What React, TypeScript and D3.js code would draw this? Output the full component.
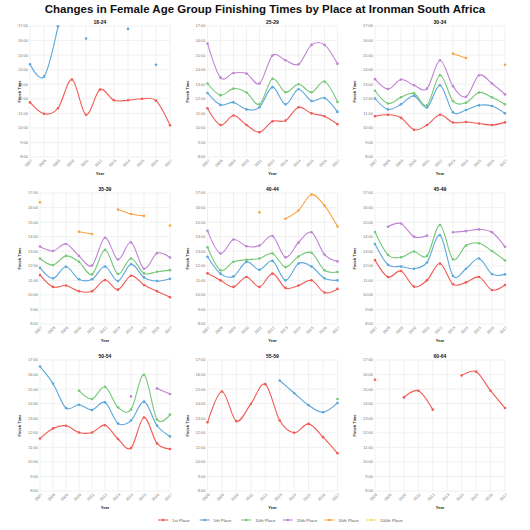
import * as d3 from 'd3'

const TITLE = 'Changes in Female Age Group Finishing Times by Place at Ironman South Africa'
const PLACES = ['1st Place', '5th Place', '10th Place', '20th Place', '50th Place', '100th Place']
const COLORS = ['#f15b55', '#5ba7dc', '#74c876', '#c084d4', '#f7a541', '#f2e35c']
const HOURS = [8, 9, 10, 11, 12, 13, 14, 15, 16, 17]
const YEARS_A = [2007, 2008, 2009, 2010, 2011, 2012, 2013, 2014, 2015, 2016, 2017]
const YEARS_B = [2008, 2009, 2010, 2011, 2012, 2013, 2014, 2015, 2016, 2017]

const _ = null

// finish times in hours, one row per place (1st, 5th, 10th, 20th, 50th, 100th)
const F18_24 = [
  [11.75, 10.97, 11.35, 13.32, 10.9, 12.63, 11.9, 11.9, 12.0, 11.87, 10.18],
  [14.37, 13.52, 16.98, _, 16.14, _, _, 16.8, _, 14.34, _],
]
const F25_29 = [
  [11.35, 10.2, 10.85, 10.2, 9.7, 10.45, 10.5, 11.42, 11.0, 10.8, 10.25],
  [12.4, 11.58, 11.75, 11.27, 11.42, 12.8, 11.62, 12.65, 11.85, 12.05, 11.1],
  [13.05, 12.25, 12.7, 12.43, 11.62, 13.37, 12.45, 13.0, 12.45, 13.18, 11.78],
  [15.8, 13.45, 13.77, 13.73, 13.05, 14.97, 14.65, 14.37, 15.7, 15.7, 14.4],
]
const F30_34 = [
  [10.8, 10.9, 10.7, 9.87, 10.2, 10.9, 10.37, 10.4, 10.3, 10.2, 10.38],
  [12.02, 11.27, 11.62, 12.2, 11.4, 12.93, 11.07, 11.23, 11.55, 11.5, 11.0],
  [12.55, 11.68, 12.1, 12.37, 11.55, 13.62, 11.84, 11.73, 12.43, 12.1, 11.62],
  [13.35, 12.67, 13.32, 12.93, 12.7, 14.65, 12.86, 12.14, 13.62, 13.05, 12.3],
  [_, _, _, _, _, _, 15.1, 14.8, _, _, 14.33],
]
const F35_39 = [
  [11.36, 10.55, 10.64, 10.25, 10.25, 11.02, 10.36, 11.32, 10.68, 10.25, 9.84],
  [11.86, 11.14, 11.93, 11.07, 11.07, 11.95, 10.95, 12.11, 11.2, 10.95, 11.11],
  [12.5, 12.05, 12.68, 12.27, 11.41, 13.09, 11.43, 12.5, 11.48, 11.59, 11.7],
  [13.32, 13.02, 13.5, 12.68, 12.02, 13.93, 12.43, 13.61, 11.8, 12.86, 12.57],
  [16.36, _, _, 14.34, 14.18, _, 15.86, 15.56, 15.43, _, 14.77],
]
const F40_44 = [
  [11.48, 11.0, 10.55, 11.23, 10.55, 11.46, 10.48, 10.64, 11.0, 10.16, 10.41],
  [12.62, 11.46, 11.27, 12.27, 11.73, 12.34, 11.0, 12.16, 11.95, 11.14, 11.0],
  [13.27, 11.69, 12.27, 12.41, 12.5, 12.84, 11.91, 12.64, 12.9, 11.69, 11.57],
  [14.4, 12.84, 13.8, 13.34, 13.39, 14.05, 12.58, 13.6, 14.3, 12.77, 12.3],
  [_, _, _, _, 15.67, _, 15.23, 15.8, 16.9, 16.13, 14.7],
]
const F45_49 = [
  [12.39, 11.23, 11.64, 10.57, 11.0, 12.16, 10.73, 10.86, 11.23, 10.34, 10.68],
  [13.5, 12.07, 11.95, 11.8, 12.23, 14.1, 11.3, 11.8, 12.5, 11.43, 11.41],
  [14.32, 12.75, 12.58, 12.98, 12.68, 14.8, 12.45, 13.39, 13.55, 13.02, 12.36],
  [_, 14.68, 14.9, 14.0, 14.07, _, 14.3, 14.38, 14.5, 14.3, 13.3],
]
const F50_54 = [
  [11.61, 12.3, 12.48, 12.02, 12.02, 12.52, 11.57, 10.95, 13.05, 11.27, 10.89],
  [16.55, 15.39, 13.7, 13.93, 13.57, 14.09, 12.64, 12.84, 14.14, 12.5, 11.75],
  [_, _, _, 14.89, 14.32, 15.16, 13.75, 13.59, 15.98, 12.91, 13.25],
  [_, _, _, _, _, _, _, 14.5, _, 15.05, 14.66],
]
const F55_59 = [
  [12.72, 14.84, 12.8, 13.98, 15.34, 12.84, 12.0, 12.61, 11.7, 10.59],
  [_, _, _, _, _, 15.59, 14.73, 13.89, 13.41, 14.05],
  [_, _, _, _, _, _, _, _, _, 14.32],
]
const F60_64 = [
  [15.64, _, 14.43, 14.89, 13.59, _, 15.93, 16.2, 14.89, 13.7],
]

const GROUPS = ['18-24', '25-29', '30-34', '35-39', '40-44', '45-49', '50-54', '55-59', '60-64']
const GROUP_DATA = [F18_24, F25_29, F30_34, F35_39, F40_44, F45_49, F50_54, F55_59, F60_64]
const GROUP_YEARS = [YEARS_A, YEARS_A, YEARS_A, YEARS_A, YEARS_A, YEARS_A, YEARS_A, YEARS_B, YEARS_B]

const FONT = '"Liberation Sans", Arial, Helvetica, sans-serif'
const COL_STEP = 167.5
const ROW_STEP = 167

function Panel({ idx }: { idx: number }) {
  const ox = (idx % 3) * COL_STEP
  const oy = Math.floor(idx / 3) * ROW_STEP
  const years = GROUP_YEARS[idx]
  const left = ox + (idx === 0 ? 30 : 40)
  const right = ox + 170
  const top = oy + 26
  const bottom = oy + 157

  const x = d3.scaleLinear().domain([years[0], years[years.length - 1]]).range([left, right])
  const y = d3.scaleLinear().domain([8, 17]).range([bottom, top])

  const line = d3
    .line<number | null>()
    .defined((v) => v != null)
    .x((_v, i) => x(years[i]))
    .y((v) => y(v as number))
    .curve(d3.curveCardinal)

  return (
    <g>
      {HOURS.map((h) => (
        <line key={'h' + h} x1={left} x2={right} y1={y(h)} y2={y(h)} stroke="#e8e8e8" strokeWidth={0.6} />
      ))}
      {years.map((yr) => (
        <line key={'v' + yr} x1={x(yr)} x2={x(yr)} y1={top} y2={bottom} stroke="#e8e8e8" strokeWidth={0.6} />
      ))}
      {HOURS.map((h) => (
        <text key={'t' + h} x={left - 2} y={y(h)} dy="0.35em" textAnchor="end" fontSize={4} fill="#777">
          {`${h}:00`}
        </text>
      ))}
      {years.map((yr) => (
        <text
          key={'x' + yr}
          transform={`translate(${x(yr) + 1.5},${bottom + 3}) rotate(-45)`}
          dy="0.35em"
          textAnchor="end"
          fontSize={4}
          fill="#777"
        >
          {yr}
        </text>
      ))}
      <text x={(left + right) / 2} y={top - 2.5} textAnchor="middle" fontSize={5} fontWeight="bold" fill="#111">
        {GROUPS[idx]}
      </text>
      <text x={(left + right) / 2} y={bottom + 17.5} textAnchor="middle" fontSize={4} fontWeight="bold" fill="#222">
        Year
      </text>
      <text
        transform={`translate(${ox + 20},${(top + bottom) / 2}) rotate(-90)`}
        textAnchor="middle"
        dy="0.35em"
        fontSize={4}
        fontWeight="bold"
        fill="#222"
      >
        Finish Time
      </text>
      {GROUP_DATA[idx].map((vals, s) => (
        <g key={'s' + s}>
          <path d={line(vals) ?? ''} fill="none" stroke={COLORS[s]} strokeWidth={1.1} />
          {vals.map((v, i) =>
            v == null ? null : <circle key={i} cx={x(years[i])} cy={y(v)} r={1.3} fill={COLORS[s]} />,
          )}
        </g>
      ))}
    </g>
  )
}

export default function App() {
  const legendX = d3.scaleLinear().domain([0, PLACES.length - 1]).range([158, 366])
  return (
    <svg
      width={530}
      height={530}
      style={{ position: 'absolute', left: 0, top: 0, background: '#fff' }}
      fontFamily={FONT}
    >
      <text x={265} y={12.5} textAnchor="middle" fontSize={11.5} fontWeight="bold" fill="#111">
        {TITLE}
      </text>
      {GROUPS.map((_g, i) => (
        <Panel key={i} idx={i} />
      ))}
      {PLACES.map((p, i) => (
        <g key={p}>
          <line x1={legendX(i)} x2={legendX(i) + 10} y1={520} y2={520} stroke={COLORS[i]} strokeWidth={1.1} />
          <circle cx={legendX(i) + 5} cy={520} r={1.2} fill={COLORS[i]} />
          <text x={legendX(i) + 14} y={520} dy="0.35em" fontSize={4.3} fill="#555">
            {p}
          </text>
        </g>
      ))}
    </svg>
  )
}
